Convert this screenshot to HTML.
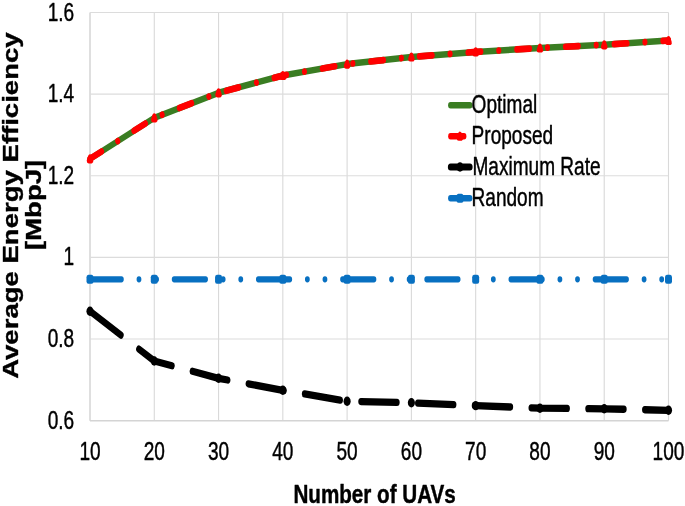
<!DOCTYPE html>
<html><head><meta charset="utf-8"><title>chart</title>
<style>
html,body{margin:0;padding:0;background:#fff;}
svg{display:block;filter:blur(0.45px);}
text{font-family:"Liberation Sans",sans-serif;fill:#000;stroke:#000;stroke-width:0.45px;stroke-linejoin:round;}
.b{font-weight:bold;}
</style></head><body>
<svg width="685" height="506" viewBox="0 0 685 506">
<rect width="685" height="506" fill="#fff"/>
<g stroke="#d9d9d9" stroke-width="1.1" fill="none">
<line x1="90.00" y1="12.5" x2="90.00" y2="420.7" stroke="#d4d4d4" stroke-width="1.5"/>
<line x1="154.28" y1="12.5" x2="154.28" y2="420.7"/>
<line x1="218.56" y1="12.5" x2="218.56" y2="420.7"/>
<line x1="282.83" y1="12.5" x2="282.83" y2="420.7"/>
<line x1="347.11" y1="12.5" x2="347.11" y2="420.7"/>
<line x1="411.39" y1="12.5" x2="411.39" y2="420.7"/>
<line x1="475.67" y1="12.5" x2="475.67" y2="420.7"/>
<line x1="539.94" y1="12.5" x2="539.94" y2="420.7"/>
<line x1="604.22" y1="12.5" x2="604.22" y2="420.7"/>
<line x1="668.50" y1="12.5" x2="668.50" y2="420.7"/>
<line x1="90.0" y1="12.50" x2="668.5" y2="12.50" stroke="#dcdcdc"/>
<line x1="90.0" y1="94.14" x2="668.5" y2="94.14" stroke="#dcdcdc"/>
<line x1="90.0" y1="175.78" x2="668.5" y2="175.78" stroke="#dcdcdc"/>
<line x1="90.0" y1="257.42" x2="668.5" y2="257.42" stroke="#dcdcdc"/>
<line x1="90.0" y1="339.06" x2="668.5" y2="339.06" stroke="#dcdcdc"/>
<line x1="90.0" y1="420.70" x2="668.5" y2="420.70" stroke="#d4d4d4" stroke-width="1.5"/>
</g>
<g transform="scale(0.76 1)" fill="none" stroke-linecap="round" stroke-linejoin="round">
<polyline points="118.42,158.80 203.00,117.80 287.57,92.80 372.15,75.50 456.73,64.10 541.30,57.00 625.88,51.90 710.45,48.00 795.03,44.80 879.61,40.50" stroke="#3a7d22" stroke-width="6.5"/>
<polyline points="118.42,158.80 203.00,117.80 287.57,92.80 372.15,75.50 456.73,64.10 541.30,57.00 625.88,51.90 710.45,48.00 795.03,44.80 879.61,40.50" stroke="#ff0000" stroke-width="6.7" stroke-dasharray="16.9 23.63 0.01 23.63"/>
<polyline points="118.42,311.20 203.00,361.00 287.57,378.30 372.15,390.30 456.73,401.20 541.30,402.80 625.88,405.60 710.45,408.20 795.03,408.80 879.61,410.30" stroke="#000" stroke-width="7.3" stroke-dasharray="47.2 27.5"/>
<polyline points="118.42,279.30 203.00,279.30 287.57,279.30 372.15,279.30 456.73,279.30 541.30,279.30 625.88,279.30 710.45,279.30 795.03,279.30 879.61,279.30" stroke="#0870c1" stroke-width="6.3" stroke-dasharray="41.3 23.15 0.01 23.15 0.01 23.15"/>
<path d="M118.42 156.90 L120.12 160.80 L116.72 160.80 Z" fill="#ff0000" stroke="#ff0000" stroke-width="5.2"/>
<path d="M203.00 115.90 L204.70 119.80 L201.30 119.80 Z" fill="#ff0000" stroke="#ff0000" stroke-width="5.2"/>
<path d="M287.57 90.90 L289.27 94.80 L285.87 94.80 Z" fill="#ff0000" stroke="#ff0000" stroke-width="5.2"/>
<path d="M372.15 73.60 L373.85 77.50 L370.45 77.50 Z" fill="#ff0000" stroke="#ff0000" stroke-width="5.2"/>
<path d="M456.73 62.20 L458.43 66.10 L455.03 66.10 Z" fill="#ff0000" stroke="#ff0000" stroke-width="5.2"/>
<path d="M541.30 55.10 L543.00 59.00 L539.60 59.00 Z" fill="#ff0000" stroke="#ff0000" stroke-width="5.2"/>
<path d="M625.88 50.00 L627.58 53.90 L624.18 53.90 Z" fill="#ff0000" stroke="#ff0000" stroke-width="5.2"/>
<path d="M710.45 46.10 L712.15 50.00 L708.75 50.00 Z" fill="#ff0000" stroke="#ff0000" stroke-width="5.2"/>
<path d="M795.03 42.90 L796.73 46.80 L793.33 46.80 Z" fill="#ff0000" stroke="#ff0000" stroke-width="5.2"/>
<path d="M879.61 38.60 L881.31 42.50 L877.91 42.50 Z" fill="#ff0000" stroke="#ff0000" stroke-width="5.2"/>
<circle cx="118.42" cy="311.20" r="4.7" fill="#000" stroke="none"/>
<circle cx="203.00" cy="361.00" r="4.7" fill="#000" stroke="none"/>
<circle cx="287.57" cy="378.30" r="4.7" fill="#000" stroke="none"/>
<circle cx="372.15" cy="390.30" r="4.7" fill="#000" stroke="none"/>
<circle cx="456.73" cy="401.20" r="4.7" fill="#000" stroke="none"/>
<circle cx="541.30" cy="402.80" r="4.7" fill="#000" stroke="none"/>
<circle cx="625.88" cy="405.60" r="4.7" fill="#000" stroke="none"/>
<circle cx="710.45" cy="408.20" r="4.7" fill="#000" stroke="none"/>
<circle cx="795.03" cy="408.80" r="4.7" fill="#000" stroke="none"/>
<circle cx="879.61" cy="410.30" r="4.7" fill="#000" stroke="none"/>
<rect x="113.82" y="274.80" width="9.2" height="9" rx="2.5" fill="#0870c1" stroke="none"/>
<rect x="198.40" y="274.80" width="9.2" height="9" rx="2.5" fill="#0870c1" stroke="none"/>
<rect x="282.97" y="274.80" width="9.2" height="9" rx="2.5" fill="#0870c1" stroke="none"/>
<rect x="367.55" y="274.80" width="9.2" height="9" rx="2.5" fill="#0870c1" stroke="none"/>
<rect x="452.13" y="274.80" width="9.2" height="9" rx="2.5" fill="#0870c1" stroke="none"/>
<rect x="536.70" y="274.80" width="9.2" height="9" rx="2.5" fill="#0870c1" stroke="none"/>
<rect x="621.28" y="274.80" width="9.2" height="9" rx="2.5" fill="#0870c1" stroke="none"/>
<rect x="705.85" y="274.80" width="9.2" height="9" rx="2.5" fill="#0870c1" stroke="none"/>
<rect x="790.43" y="274.80" width="9.2" height="9" rx="2.5" fill="#0870c1" stroke="none"/>
<rect x="875.01" y="274.80" width="9.2" height="9" rx="2.5" fill="#0870c1" stroke="none"/>
</g>
<text transform="translate(74.2 20.50) scale(0.75 1)" font-size="25.4" text-anchor="end">1.6</text>
<text transform="translate(74.2 102.14) scale(0.75 1)" font-size="25.4" text-anchor="end">1.4</text>
<text transform="translate(74.2 183.78) scale(0.75 1)" font-size="25.4" text-anchor="end">1.2</text>
<text transform="translate(74.2 265.42) scale(0.75 1)" font-size="25.4" text-anchor="end">1</text>
<text transform="translate(74.2 347.06) scale(0.75 1)" font-size="25.4" text-anchor="end">0.8</text>
<text transform="translate(74.2 428.70) scale(0.75 1)" font-size="25.4" text-anchor="end">0.6</text>
<text transform="translate(90.00 459.6) scale(0.75 1)" font-size="25.4" text-anchor="middle">10</text>
<text transform="translate(154.28 459.6) scale(0.75 1)" font-size="25.4" text-anchor="middle">20</text>
<text transform="translate(218.56 459.6) scale(0.75 1)" font-size="25.4" text-anchor="middle">30</text>
<text transform="translate(282.83 459.6) scale(0.75 1)" font-size="25.4" text-anchor="middle">40</text>
<text transform="translate(347.11 459.6) scale(0.75 1)" font-size="25.4" text-anchor="middle">50</text>
<text transform="translate(411.39 459.6) scale(0.75 1)" font-size="25.4" text-anchor="middle">60</text>
<text transform="translate(475.67 459.6) scale(0.75 1)" font-size="25.4" text-anchor="middle">70</text>
<text transform="translate(539.94 459.6) scale(0.75 1)" font-size="25.4" text-anchor="middle">80</text>
<text transform="translate(604.22 459.6) scale(0.75 1)" font-size="25.4" text-anchor="middle">90</text>
<text transform="translate(668.50 459.6) scale(0.75 1)" font-size="25.4" text-anchor="middle">100</text>
<text class="b" transform="translate(374.6 502.9) scale(0.80 1)" font-size="25.8" text-anchor="middle">Number of UAVs</text>
<text class="b" transform="translate(17.9 205.6) scale(0.80 1) rotate(-90)" font-size="27.55" text-anchor="middle">Average Energy Efficiency</text>
<text class="b" transform="translate(41.3 204.9) scale(0.77 1) rotate(-90)" font-size="27.55" text-anchor="middle">[MbpJ]</text>
<g transform="scale(0.76 1)" fill="none" stroke-linecap="round">
<line x1="592.89" y1="105.2" x2="618.29" y2="105.2" stroke="#3a7d22" stroke-width="6.6"/>
<line x1="592.89" y1="136.2" x2="610.49" y2="136.2" stroke="#ff0000" stroke-width="6.4"/>
<line x1="592.89" y1="167.0" x2="618.29" y2="167.0" stroke="#000" stroke-width="7.2"/>
<line x1="592.89" y1="198.2" x2="618.29" y2="198.2" stroke="#0870c1" stroke-width="6.6"/>
<path d="M605.26 134.30 L606.96 138.20 L603.56 138.20 Z" fill="#ff0000" stroke="#ff0000" stroke-width="5.2" stroke-linejoin="round"/>
<circle cx="605.26" cy="167.0" r="4.7" fill="#000" stroke="none"/>
<rect x="600.66" y="193.70" width="9.2" height="9" rx="2.5" fill="#0870c1" stroke="none"/>
</g>
<text transform="translate(471.6 113.0) scale(0.75 1)" font-size="25.4">Optimal</text>
<text transform="translate(471.6 143.7) scale(0.75 1)" font-size="25.4">Proposed</text>
<text transform="translate(472.5 174.9) scale(0.75 1)" font-size="25.4">Maximum Rate</text>
<text transform="translate(471.6 205.5) scale(0.75 1)" font-size="25.4">Random</text>
</svg></body></html>
